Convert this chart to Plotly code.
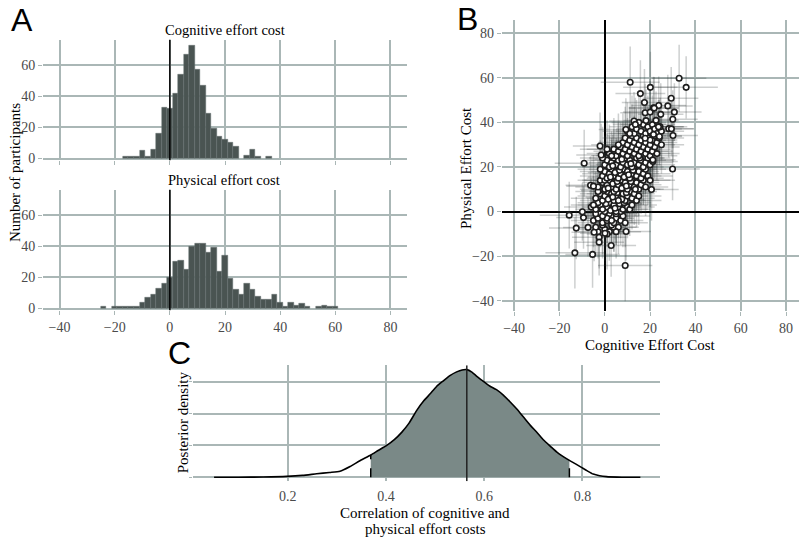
import plotly.graph_objects as go

W, H = 799, 538

# ---------------- Panel A: histograms ----------------
cog_bins = [-16, -14, -12, -10, -8, -6, -4, -2, 0, 2, 4, 6, 8, 10, 12, 14, 16, 18, 20, 22, 24, 28, 30, 32, 36]
cog_counts = [1, 1, 1, 5, 1, 6, 16, 33, 32, 42, 54, 67, 73, 57, 47, 29, 19, 14, 12, 10, 8, 2, 6, 1, 1]

phys_bins = [-24, -20, -18, -16, -14, -12, -10, -8, -6, -4, -2, 0, 2, 4, 6, 8, 10, 12, 14, 16, 18, 20,
             22, 24, 26, 28, 30, 32, 34, 36, 38, 40, 42, 44, 46, 48, 50, 54, 56, 58, 60]
phys_counts = [1, 1, 1, 1, 1, 1, 4, 7, 9, 13, 16, 20, 30, 31, 25, 40, 42, 42, 36, 39, 24, 34,
               19, 12, 9, 16, 12, 8, 6, 6, 9, 4, 1, 4, 2, 3, 1, 1, 2, 1, 1]
bin_width = 2

# ---------------- Panel B: participant estimates (cognitive, physical, sd_cog, sd_phys) ----------------
participants = [
    (-3, -9, 9, 12), (0, -8, 11, 14), (2, -9, 8, 13), (4, -7, 10, 11), (-1, -6, 12, 15), (6, -7, 9, 12),
    (3, -6, 7, 10), (-4, -7, 10, 13), (1, -10, 9, 16), (5, -9, 11, 12),
    (-5, -4, 10, 12), (-3, -3, 8, 11), (-1, -5, 11, 14), (1, -4, 9, 10), (3, -2, 12, 13), (5, -3, 8, 12),
    (7, -4, 10, 11), (-2, -1, 9, 15), (0, -2, 11, 12), (2, -1, 7, 10), (4, -5, 10, 13), (6, -1, 9, 11),
    (8, -2, 12, 14), (-4, -1, 8, 12), (9, -5, 10, 11), (1, -3, 11, 13), (3, -4, 9, 12), (-1, -2, 10, 10),
    (5, -1, 8, 14), (7, 0, 11, 12),
    (-6, 2, 12, 13), (-4, 1, 9, 11), (-2, 3, 10, 14), (0, 0, 8, 12), (1, 2, 11, 10), (2, 4, 9, 13),
    (3, 1, 10, 12), (4, 3, 12, 11), (5, 0, 8, 14), (6, 2, 10, 12), (7, 4, 9, 13), (8, 1, 11, 10),
    (9, 3, 10, 12), (10, 2, 12, 14), (-3, 4, 9, 11), (-1, 1, 10, 13), (0.5, 3.5, 8, 12), (2.5, 0.5, 11, 11),
    (4.5, 1.5, 9, 14), (6.5, 3.5, 10, 10), (8.5, 4, 12, 13), (11, 1, 9, 12), (12, 3, 11, 11), (-5, 3, 10, 13),
    (-4, 6, 11, 12), (-2, 8, 9, 14), (-1, 5, 10, 11), (0, 7, 12, 13), (1, 9, 8, 12), (2, 6, 10, 10),
    (3, 8, 11, 14), (4, 5, 9, 12), (5, 7, 10, 13), (6, 9, 12, 11), (7, 6, 8, 12), (8, 8, 10, 14),
    (9, 5, 11, 10), (10, 7, 9, 13), (11, 9, 12, 12), (12, 6, 10, 11), (13, 8, 9, 14), (14, 5, 11, 12),
    (-3, 9, 10, 13), (1.5, 5.5, 8, 11), (3.5, 6.5, 12, 12), (5.5, 8.5, 9, 10), (7.5, 5.5, 10, 14),
    (9.5, 8.5, 11, 12), (-0.5, 9.5, 10, 13), (4, 9, 9, 11), (6, 5, 12, 12), (15, 7, 10, 13),
    (-3, 11, 10, 12), (-1, 13, 9, 14), (0, 10, 11, 11), (1, 12, 10, 13), (2, 14, 12, 12), (3, 11, 8, 10),
    (4, 13, 10, 14), (5, 10, 11, 12), (6, 12, 9, 13), (7, 14, 12, 11), (8, 11, 10, 12), (9, 13, 9, 14),
    (10, 10, 11, 10), (11, 12, 10, 13), (12, 14, 12, 12), (13, 11, 9, 11), (14, 13, 10, 14), (15, 10, 11, 12),
    (16, 12, 9, 13), (17, 14, 12, 11), (-2, 14, 10, 12), (1.5, 10.5, 9, 14), (3.5, 12.5, 11, 10),
    (5.5, 13.5, 10, 13), (7.5, 10.5, 12, 12), (9.5, 11.5, 9, 11), (11.5, 13.5, 10, 14), (13.5, 10, 11, 12),
    (18, 11, 10, 13), (0, 14, 9, 12),
    (-1, 16, 10, 13), (0, 18, 11, 12), (1, 15, 9, 14), (2, 17, 12, 11), (3, 19, 10, 13), (4, 16, 8, 12),
    (5, 18, 11, 14), (6, 15, 10, 10), (7, 17, 12, 13), (8, 19, 9, 12), (9, 16, 10, 14), (10, 18, 11, 11),
    (11, 15, 9, 13), (12, 17, 12, 12), (13, 19, 10, 14), (14, 16, 11, 11), (15, 18, 9, 13), (16, 15, 10, 12),
    (17, 17, 12, 14), (18, 19, 9, 11), (19, 16, 11, 13), (2.5, 15.5, 10, 12), (4.5, 17.5, 12, 14),
    (6.5, 18.5, 9, 11), (8.5, 15.5, 11, 13), (10.5, 16.5, 10, 12), (12.5, 18.5, 9, 14), (20, 14, 11, 12),
    (-2, 19, 10, 13),
    (0, 21, 11, 13), (1, 23, 9, 12), (2, 20, 12, 14), (3, 22, 10, 11), (4, 24, 11, 13), (5, 21, 9, 12),
    (6, 23, 12, 14), (7, 20, 10, 10), (8, 22, 11, 13), (9, 24, 9, 12), (10, 21, 12, 14), (11, 23, 10, 11),
    (12, 20, 11, 13), (13, 22, 9, 12), (14, 24, 12, 14), (15, 21, 10, 11), (16, 23, 11, 13), (17, 20, 9, 12),
    (18, 22, 12, 14), (19, 24, 10, 11), (20, 21, 11, 13), (21, 23, 9, 12), (3.5, 20.5, 10, 14),
    (7.5, 23.5, 12, 11), (11.5, 21.5, 9, 13), (15.5, 24, 11, 12), (-1, 24, 10, 14),
    (2, 26, 10, 13), (4, 28, 12, 14), (5, 25, 9, 12), (6, 27, 11, 13), (7, 29, 10, 11), (8, 26, 12, 14),
    (9, 28, 9, 12), (10, 25, 11, 13), (11, 27, 10, 14), (12, 29, 12, 12), (13, 26, 9, 11), (14, 28, 11, 13),
    (15, 25, 10, 14), (16, 27, 12, 12), (17, 29, 9, 13), (18, 26, 11, 11), (19, 28, 10, 14), (20, 25, 12, 12),
    (21, 27, 9, 13), (22, 29, 11, 14), (23, 26, 10, 12), (1, 28, 12, 13), (3, 25, 9, 11),
    (8, 31, 11, 13), (9, 33, 10, 14), (10, 30, 12, 12), (11, 32, 9, 13), (12, 34, 11, 14), (13, 31, 10, 12),
    (14, 33, 12, 13), (15, 30, 9, 11), (16, 32, 11, 14), (17, 34, 10, 12), (18, 31, 12, 13), (19, 33, 9, 14),
    (20, 30, 11, 12), (21, 32, 10, 13), (22, 34, 12, 11), (23, 31, 9, 14), (24, 33, 11, 12), (25, 30, 10, 13),
    (6, 30, 12, 14),
    (10, 36, 11, 13), (12, 38, 10, 14), (13, 35, 12, 12), (14, 37, 9, 13), (16, 36, 11, 14), (17, 39, 10, 12),
    (18, 35, 12, 13), (19, 38, 9, 14), (20, 36, 11, 12), (21, 39, 10, 13), (22, 37, 12, 11), (23, 35, 9, 14),
    (24, 38, 11, 12), (25, 36, 10, 13), (15, 40, 12, 14), (11, 35, 9, 12),
    (11.2, 58, 13, 16), (32.8, 59.8, 12, 15), (35.9, 55.7, 14, 14), (20.1, 55.7, 12, 16), (15.7, 52.9, 11, 15),
    (29.3, 50.8, 12, 14), (17.5, 48.9, 10, 15), (21.5, 46.5, 11, 14), (23.8, 47.6, 12, 13), (27.8, 47.4, 11, 14),
    (30.7, 44.6, 12, 13), (24.7, 43.6, 10, 14), (17.8, 44.3, 11, 13), (20, 44.6, 12, 14), (30, 41.4, 11, 13),
    (18.2, 40.8, 10, 14), (12.9, 40.6, 11, 13), (13.5, 39.1, 10, 12), (9.3, 36.8, 12, 14), (28.2, 37.2, 11, 13),
    (29.4, 37.1, 10, 12), (24.4, 38, 12, 13), (30.1, 34.1, 11, 12), (24.1, 33.7, 10, 13), (-2.1, 29.4, 12, 15),
    (-1.6, 25.4, 11, 14), (-9.1, 21.7, 13, 15), (29.9, 19.1, 12, 14), (21.2, 22.5, 11, 13), (20.6, 9.9, 12, 14),
    (-6.3, 11.8, 11, 13), (-5, 11.4, 12, 14), (-9.9, -0.1, 11, 13), (-9.4, -2.7, 12, 14), (-15.7, -1.6, 13, 15),
    (-12.6, -7.4, 12, 14), (-7.4, -7.1, 11, 13), (-13.2, -18.5, 13, 16), (-5.4, -19.2, 12, 15),
    (2.8, -15.2, 11, 14), (9, -24.2, 12, 16), (9.4, -8.9, 11, 13), (-2.5, -11.5, 12, 14), (-2.5, -13.7, 11, 15),
    (-4.7, -9.3, 10, 13), (0.1, -9.7, 11, 14), (21.8, 46.4, 11, 14), (22.6, 40.9, 10, 13), (23.7, 38, 11, 12),
    (21.5, 34.6, 10, 13), (20, 32.1, 12, 12), (17.8, 32.9, 11, 13), (21.2, 23.2, 10, 12),
]
cog_est = [p[0] for p in participants]
phys_est = [p[1] for p in participants]
cog_sd = [p[2] for p in participants]
phys_sd = [p[3] for p in participants]

# ---------------- Panel C: posterior density of correlation ----------------
rho = [0.05, 0.10, 0.15, 0.198, 0.23, 0.259, 0.285, 0.3065, 0.327, 0.347, 0.369, 0.385, 0.4016, 0.417,
       0.432, 0.447, 0.4627, 0.477, 0.49, 0.503, 0.517, 0.531, 0.544, 0.555, 0.5646, 0.575, 0.585, 0.595,
       0.605, 0.612, 0.625, 0.639, 0.652, 0.666, 0.68, 0.694, 0.708, 0.721, 0.735, 0.748, 0.761, 0.7735,
       0.786, 0.798, 0.81, 0.822, 0.835, 0.849, 0.87, 0.89, 0.918]
dens = [0.0, 0.0, 0.01, 0.03, 0.06, 0.11, 0.15, 0.19, 0.34, 0.52, 0.70, 0.85, 1.0, 1.18,
        1.41, 1.70, 2.1, 2.40, 2.62, 2.85, 3.03, 3.2, 3.31, 3.37, 3.38, 3.3, 3.17, 3.05,
        2.93, 2.86, 2.75, 2.58, 2.38, 2.15, 1.89, 1.63, 1.40, 1.17, 0.97, 0.79, 0.65, 0.53,
        0.42, 0.31, 0.2, 0.10, 0.05, 0.02, 0.005, 0.0, 0.0]
rho_median = 0.5646
ci_low, ci_high = 0.369, 0.7735

# ---------------- styling ----------------
GRID = "#aab7b6"
BAR = "#4a5452"
FILL = "#7a8987"
TICKC = "#4a4a4a"
SERIF = "Liberation Serif, Times New Roman, serif"
SANS = "Liberation Sans, Arial, sans-serif"

fig = go.Figure()

# Panel A bars
fig.add_trace(go.Bar(x=cog_bins, y=cog_counts, width=bin_width, marker=dict(color=BAR, line=dict(color="#667070", width=0.5)),
                     xaxis="x", yaxis="y", showlegend=False))
fig.add_trace(go.Bar(x=phys_bins, y=phys_counts, width=bin_width, marker=dict(color=BAR, line=dict(color="#667070", width=0.5)),
                     xaxis="x2", yaxis="y2", showlegend=False))
# zero reference lines in A
A_YR = [-1.2, 76.6]
fig.add_trace(go.Scatter(x=[0, 0], y=A_YR, mode="lines", line=dict(color="black", width=1.5),
                         xaxis="x", yaxis="y", showlegend=False, hoverinfo="skip"))
fig.add_trace(go.Scatter(x=[0, 0], y=A_YR, mode="lines", line=dict(color="black", width=1.5),
                         xaxis="x2", yaxis="y2", showlegend=False, hoverinfo="skip"))

# Panel B
fig.add_trace(go.Scatter(x=cog_est, y=phys_est, mode="markers", marker=dict(opacity=0, size=1),
                         error_x=dict(type="data", array=cog_sd, color="rgba(45,55,55,0.24)", thickness=1.5, width=0),
                         error_y=dict(type="data", array=phys_sd, color="rgba(45,55,55,0.24)", thickness=1.5, width=0),
                         xaxis="x3", yaxis="y3", showlegend=False, hoverinfo="skip"))
fig.add_trace(go.Scatter(x=cog_est, y=phys_est, mode="markers",
                         marker=dict(size=5.5, color="white", line=dict(color="#1e1e1e", width=1.6)),
                         xaxis="x3", yaxis="y3", showlegend=False))

# Panel C
fill_x = [r for r in rho if ci_low <= r <= ci_high]
fill_y = [d for r, d in zip(rho, dens) if ci_low <= r <= ci_high]
fig.add_trace(go.Scatter(x=fill_x, y=fill_y, mode="lines", fill="tozeroy", fillcolor=FILL,
                         line=dict(width=0, color=FILL, shape="spline", smoothing=0.6),
                         xaxis="x4", yaxis="y4", showlegend=False, hoverinfo="skip"))
fig.add_trace(go.Scatter(x=rho, y=dens, mode="lines", line=dict(color="black", width=1.6, shape="spline", smoothing=0.6),
                         xaxis="x4", yaxis="y4", showlegend=False))
C_YR = [-0.125, 3.52]
fig.add_trace(go.Scatter(x=[rho_median, rho_median], y=C_YR, mode="lines", line=dict(color="#222", width=1.5),
                         xaxis="x4", yaxis="y4", showlegend=False, hoverinfo="skip"))
for xv in (ci_low, ci_high):
    yv = dens[rho.index(xv)]
    fig.add_trace(go.Scatter(x=[xv, xv], y=[0, yv], mode="lines", line=dict(color="black", width=1.5, dash="dash"),
                             xaxis="x4", yaxis="y4", showlegend=False, hoverinfo="skip"))


def px_x(p):
    return p / W


def px_y(p):
    return 1 - p / H


tickfont = dict(family=SERIF, size=14, color=TICKC)
common = dict(showgrid=True, gridcolor=GRID, gridwidth=1.5, showline=False, zeroline=False,
              ticks="outside", ticklen=4, tickcolor=GRID, tickwidth=1.2, tickfont=tickfont)
a_xticks = [-40, -20, 0, 20, 40, 60, 80]

fig.update_layout(
    width=W, height=H, autosize=False,
    margin=dict(l=0, r=0, t=0, b=0),
    paper_bgcolor="white", plot_bgcolor="white",
    bargap=0,
    xaxis=dict(domain=[px_x(43), px_x(407)], range=[-46, 86], anchor="y", tickvals=a_xticks,
               showticklabels=False, **common),
    yaxis=dict(domain=[px_y(162.2), px_y(40)], range=A_YR, anchor="x", tickvals=[0, 20, 40, 60], **common),
    xaxis2=dict(domain=[px_x(43), px_x(407)], range=[-46, 86], anchor="y2", tickvals=a_xticks, **common),
    yaxis2=dict(domain=[px_y(313.9), px_y(191.7)], range=A_YR, anchor="x2", tickvals=[0, 20, 40, 60], **common),
    xaxis3=dict(domain=[px_x(501.7), 1.0], range=[-45.5, 85.7], anchor="y3", tickvals=a_xticks,
                **{**common, "zeroline": True, "zerolinecolor": "black", "zerolinewidth": 1.5}),
    yaxis3=dict(domain=[px_y(315), px_y(20.7)], range=[-44.8, 85.7], anchor="x3", tickvals=[-40, -20, 0, 20, 40, 60, 80],
                **{**common, "zeroline": True, "zerolinecolor": "black", "zerolinewidth": 1.5}),
    xaxis4=dict(domain=[px_x(193), px_x(660)], range=[0.0071, 0.958], anchor="y4", tickvals=[0.2, 0.4, 0.6, 0.8],
                **{**common, "tickcolor": "rgba(0,0,0,0)", "ticklen": 2}),
    yaxis4=dict(domain=[px_y(486.7), px_y(369.3)], range=C_YR, anchor="x4", tickvals=[0, 1, 2, 3],
                **{**common, "showticklabels": False, "ticklen": 3}),
)

ann = []


def add_text(text, x, y, size, family=SERIF, color="black", angle=0):
    ann.append(dict(text=text, x=px_x(x), y=px_y(y), xref="paper", yref="paper", showarrow=False,
                    xanchor="center", yanchor="middle", textangle=angle,
                    font=dict(family=family, size=size, color=color)))


add_text("A", 22, 20, 32, SANS)
add_text("B", 467, 19, 32, SANS)
add_text("C", 179, 357, 32, SANS)
add_text("Cognitive effort cost", 225, 30, 14.5)
add_text("Physical effort cost", 224, 182, 14.5)
add_text("Number of participants", 15, 175, 15, angle=-90)
add_text("Physical Effort Cost", 466, 170, 15, angle=-90)
add_text("Cognitive Effort Cost", 650, 349, 15)
add_text("Posterior density", 183, 427, 15, angle=-90)
add_text("Correlation of cognitive and", 425, 519, 15)
add_text("physical effort costs", 425, 535, 15)
fig.update_layout(annotations=ann)

fig.write_html("out.html", config={"displayModeBar": False},
               post_script="document.body.style.margin='0';document.body.style.overflow='hidden';")
